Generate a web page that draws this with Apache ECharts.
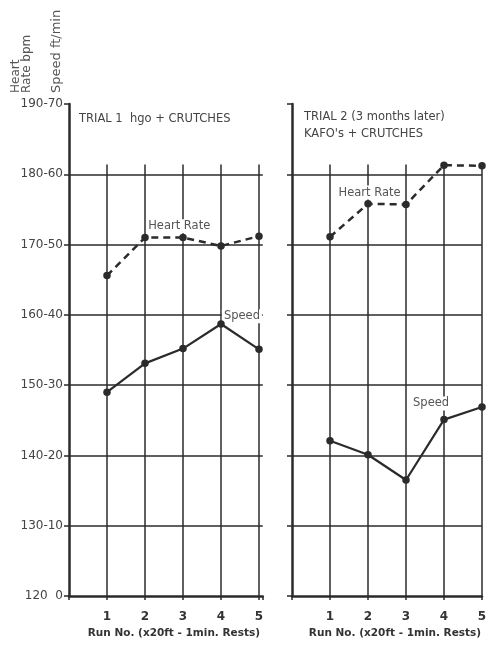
<!DOCTYPE html>
<html>
<head>
<meta charset="utf-8">
<script src="https://cdn.jsdelivr.net/npm/echarts@6/dist/echarts.min.js"></script>
<style>
  html, body { margin: 0; padding: 0; background: #fff; }
  #chart { width: 490px; height: 647px; }
</style>
</head>
<body>
<div id="chart"></div>
<script>
// run numbers (x20ft - 1min rests)
const runs = [1, 2, 3, 4, 5];
// left scale: heart rate bpm - speed ft/min
const yTicks = [120, 130, 140, 150, 160, 170, 180, 190];
const yTickLabels = ['120  0', '130-10', '140-20', '150-30', '160-40', '170-50', '180-60', '190-70'];

// trial 1: hgo + crutches
const trial1HeartRate = [165.6, 171.0, 171.0, 169.8, 171.2];
const trial1Speed = [29.0, 33.1, 35.2, 38.7, 35.1];
// trial 2: KAFO's + crutches (3 months later)
const trial2HeartRate = [171.1, 175.8, 175.7, 181.3, 181.2];
const trial2Speed = [22.1, 20.1, 16.5, 25.1, 26.9];

const ink = '#2b2b2b';
const font = 'DejaVu Sans';

let myChart = echarts.init(document.getElementById('chart'), null, { renderer: 'canvas' });

function pairs(vals) {
  return runs.map((r, i) => [r, vals[i]]);
}

function gridLines(gi) {
  // vertical run lines + horizontal value lines
  let v = runs.map(r => [{ coord: [r, 120] }, { coord: [r, 181.4] }]);
  let h = yTicks.slice(1, -1).map(t => ({ yAxis: t }));
  return {
    type: 'line', xAxisIndex: gi, yAxisIndex: gi * 2, data: [], silent: true, z: 1,
    markLine: {
      silent: true, symbol: 'none', animation: false,
      label: { show: false },
      lineStyle: { color: ink, width: 1.5, type: 'solid' },
      data: v.concat(h)
    }
  };
}

function tag(text, coord) {
  return {
    coord: coord, value: text, symbolSize: 0,
    label: {
      show: true, formatter: text, position: 'inside',
      color: '#555', fontFamily: font, fontSize: 11.5,
      backgroundColor: '#fff', padding: [1, 2]
    }
  };
}

function hrSeries(gi, vals, label) {
  return {
    name: 'Heart Rate', type: 'line', xAxisIndex: gi, yAxisIndex: gi * 2,
    data: pairs(vals), z: 5,
    symbol: 'circle', symbolSize: 7.5,
    itemStyle: { color: ink },
    lineStyle: { color: ink, width: 2.5, type: [7, 5] },
    markPoint: { symbol: 'circle', animation: false, data: [label] }
  };
}

function speedSeries(gi, vals, label) {
  return {
    name: 'Speed', type: 'line', xAxisIndex: gi, yAxisIndex: gi * 2 + 1,
    data: pairs(vals), z: 5,
    symbol: 'circle', symbolSize: 7.5,
    itemStyle: { color: ink },
    lineStyle: { color: ink, width: 2.2 },
    markPoint: { symbol: 'circle', animation: false, data: [label] }
  };
}

function xAxis(gi, max) {
  return {
    type: 'value', gridIndex: gi, min: 0, max: max, interval: 1,
    axisLine: { show: true, lineStyle: { color: ink, width: 2.5 } },
    axisTick: { show: true, length: 4, lineStyle: { color: ink, width: 1.5 } },
    splitLine: { show: false },
    axisLabel: {
      margin: 15, color: '#333', fontFamily: font, fontSize: 12, fontWeight: 'bold',
      formatter: v => (runs.includes(v) ? String(v) : '')
    },
    name: 'Run No. (x20ft - 1min. Rests)', nameLocation: 'middle', nameGap: 32,
    nameTextStyle: { color: '#333', fontFamily: font, fontSize: 10.5, fontWeight: 'bold', padding: [0, 0, 0, 16] }
  };
}

function yAxes(gi, showLabels) {
  return [
    {
      type: 'value', gridIndex: gi, min: 120, max: 190, interval: 10,
      axisLine: { show: true, lineStyle: { color: ink, width: 2.5 } },
      axisTick: { show: true, length: 5, lineStyle: { color: ink, width: 1.5 } },
      splitLine: { show: false },
      axisLabel: {
        show: showLabels, margin: 6, color: '#444', fontFamily: font, fontSize: 12,
        formatter: v => yTickLabels[yTicks.indexOf(v)]
      }
    },
    { type: 'value', gridIndex: gi, min: 0, max: 70, show: false }
  ];
}

let option = {
  animation: false,
  backgroundColor: '#fff',
  title: [
    { text: 'TRIAL 1  hgo + CRUTCHES', left: 74, top: 108,
      textStyle: { color: '#444', fontFamily: font, fontSize: 11.5, fontWeight: 'normal' } },
    { text: 'TRIAL 2 (3 months later)\nKAFO\'s + CRUTCHES', left: 299, top: 104,
      textStyle: { color: '#444', fontFamily: font, fontSize: 11.5, fontWeight: 'normal', lineHeight: 17 } }
  ],
  grid: [
    { left: 69, top: 104, width: 190 * 1.02, height: 492 },
    { left: 292, top: 104, width: 190, height: 492 }
  ],
  xAxis: [xAxis(0, 5.1), xAxis(1, 5)],
  yAxis: yAxes(0, true).concat(yAxes(1, false)),
  graphic: [
    { type: 'text', x: 16, y: 93, rotation: Math.PI / 2,
      style: { text: 'Heart', fill: '#555', font: '12px ' + font, align: 'left', verticalAlign: 'middle' } },
    { type: 'text', x: 27, y: 93, rotation: Math.PI / 2,
      style: { text: 'Rate bpm', fill: '#555', font: '12px ' + font, align: 'left', verticalAlign: 'middle' } },
    { type: 'text', x: 57, y: 93, rotation: Math.PI / 2,
      style: { text: 'Speed ft/min', fill: '#555', font: '13px ' + font, align: 'left', verticalAlign: 'middle' } }
  ],
  series: [
    gridLines(0),
    gridLines(1),
    hrSeries(0, trial1HeartRate, tag('Heart Rate', [2.9, 172.6])),
    speedSeries(0, trial1Speed, tag('Speed', [4.55, 39.8])),
    hrSeries(1, trial2HeartRate, tag('Heart Rate', [2.04, 177.4])),
    speedSeries(1, trial2Speed, tag('Speed', [3.66, 27.4]))
  ]
};

myChart.setOption(option, true);
window.addEventListener('resize', myChart.resize);
</script>
</body>
</html>
